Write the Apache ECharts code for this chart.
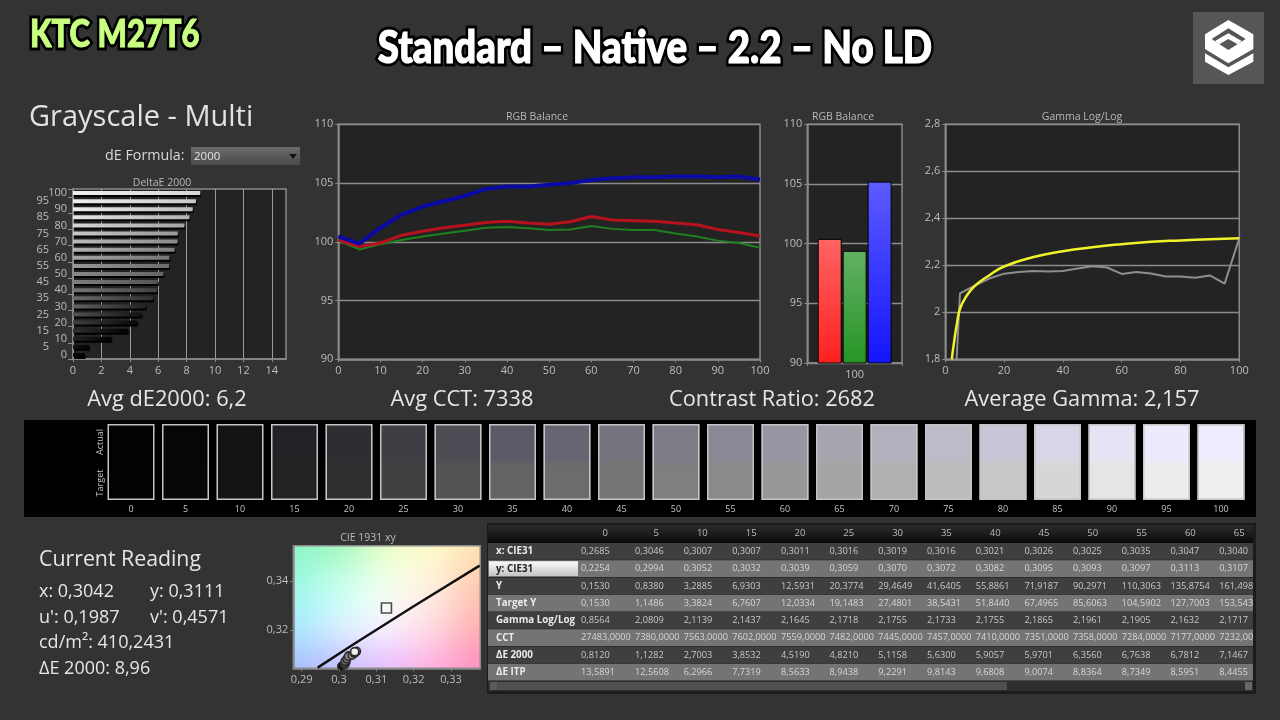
<!DOCTYPE html>
<html><head><meta charset="utf-8">
<style>html,body{margin:0;padding:0;background:#333;}#c{width:1280px;height:720px;}</style>
<script src="https://cdn.jsdelivr.net/npm/echarts@6/dist/echarts.min.js"></script>
</head><body><div id="c"></div>
<script>
const FONT='"Open Sans","Noto Sans",sans-serif';
const levels=[0,5,10,15,20,25,30,35,40,45,50,55,60,65,70,75,80,85,90,95,100];
const deltaE=[0.812,1.1282,2.7003,3.8532,4.519,4.821,5.1158,5.63,5.9057,5.9701,6.356,6.7638,6.7812,7.1467,7.36,7.38,7.85,8.2,8.43,8.66,8.96];
const rgbRed=[100.15,99.6,99.9,100.55,100.9,101.2,101.4,101.65,101.75,101.6,101.5,101.7,102.15,101.85,101.8,101.75,101.6,101.45,101.05,100.8,100.5];
const rgbGreen=[100.1,99.35,99.8,100.15,100.45,100.7,100.95,101.2,101.25,101.15,101,101.05,101.35,101.1,101,101,100.7,100.45,100.1,99.9,99.5];
const rgbBlue=[100.45,99.85,101.2,102.3,103,103.45,103.9,104.5,104.7,104.7,104.85,105,105.25,105.4,105.5,105.5,105.55,105.55,105.5,105.55,105.3];
const balanceCats=['100'];
const balanceRed=[100.4],balanceGreen=[99.4],balanceBlue=[105.2];
const gammaMeasured=[0.8564,2.0809,2.1139,2.1437,2.1645,2.1718,2.1755,2.1733,2.1755,2.1865,2.1961,2.1905,2.1632,2.1717,2.165,2.152,2.152,2.147,2.157,2.122,2.315];
const gammaTargetX=[2.2,3,4,5,7,10,15,20,30,40,50,60,70,80,90,100];
const gammaTargetY=[1.8,1.875,1.955,2.015,2.065,2.112,2.158,2.195,2.235,2.26,2.277,2.29,2.3,2.306,2.311,2.315];
const swatchActual=['#020202','#060608','#141416','#222226','#2e2e32','#3f3e45','#4d4d55','#5a5a66','#666672','#75757f','#7d7d87','#8a8894','#9896a2','#a6a5af','#b3b1be','#bcbbc7','#c8c7d8','#d8d7e8','#e4e4f4','#ecebfd','#eeedfd'];
const swatchTarget=['#020202','#070707','#141414','#232323','#303030','#414141','#535353','#646464','#6c6c6c','#757575','#7f7f7f','#8a8a8a','#989898','#a5a5a5','#b0b0b0','#bbbbbb','#c8c8c8','#d6d6d6','#e5e5e5','#ececec','#efefef'];
const cieX=[.3007,.3007,.3011,.3016,.3019,.3016,.3021,.3026,.3025,.3035,.3047,.3040,.3042,.3041,.3041,.3042,.3043,.3042,.3042];
const cieY=[.3052,.3032,.3039,.3059,.3070,.3072,.3082,.3095,.3093,.3097,.3113,.3107,.3105,.3106,.3108,.3109,.3110,.3110,.3111];
const locusX=[.29428,.3040,.3199,.33767];
const locusY=[.30463,.3143,.3296,.34626];
const cieTarget=[.3127,.329];
const cieColors=[['#8ef5c8','#a8f8c0','#e8ffc8','#fffac8','#ffe0b0'],['#a0f8e8','#c8fff0','#f4fff0','#ffeedd','#ffc8b0'],['#a8e8ff','#d8f0ff','#f8f0ff','#ffd8e0','#ffb0b0'],['#a8c0ff','#c8c0ff','#e8c0ff','#ffb0e0','#ff90c0']];
const tableHeads=['0','5','10','15','20','25','30','35','40','45','50','55','60','65'];
const tableNames=['x: CIE31','y: CIE31','Y','Target Y','Gamma Log/Log','CCT','ΔE 2000','ΔE ITP'];
const rowX=['0,2685','0,3046','0,3007','0,3007','0,3011','0,3016','0,3019','0,3016','0,3021','0,3026','0,3025','0,3035','0,3047','0,3040'];
const rowY=['0,2254','0,2994','0,3052','0,3032','0,3039','0,3059','0,3070','0,3072','0,3082','0,3095','0,3093','0,3097','0,3113','0,3107'];
const rowLum=['0,1530','0,8380','3,2885','6,9303','12,5931','20,3774','29,4649','41,6405','55,8861','71,9187','90,2971','110,3063','135,8754','161,498'];
const rowTarget=['0,1530','1,1486','3,3824','6,7607','12,0334','19,1483','27,4801','38,5431','51,8440','67,4965','85,6063','104,5902','127,7003','153,543'];
const rowGamma=['0,8564','2,0809','2,1139','2,1437','2,1645','2,1718','2,1755','2,1733','2,1755','2,1865','2,1961','2,1905','2,1632','2,1717'];
const rowCCT=['27483,0000','7380,0000','7563,0000','7602,0000','7559,0000','7482,0000','7445,0000','7457,0000','7410,0000','7351,0000','7358,0000','7284,0000','7177,0000','7232,00'];
const rowDE=['0,8120','1,1282','2,7003','3,8532','4,5190','4,8210','5,1158','5,6300','5,9057','5,9701','6,3560','6,7638','6,7812','7,1467'];
const rowITP=['13,5891','12,5608','6,2966','7,7319','8,5633','8,9438','9,2291','9,8143','9,6808','9,0074','8,8364','8,7349','8,5951','8,4455'];
const tableRows=[rowX,rowY,rowLum,rowTarget,rowGamma,rowCCT,rowDE,rowITP];

const LBL='#bdbdbd',AX='#8a8a8a',PLOT='#232323';
const comma=v=>String(Math.round(v*1000)/1000).replace('.',',');
const g=[];
const T=(text,x,y,size,fill,opt={})=>g.push(Object.assign({type:'text',silent:true,z:opt.z??5,rotation:opt.rotation||0,scaleY:opt.sy||1,x:opt.rx||0,y:opt.ry||0,
  style:{text,x:opt.rx?0:x,y:opt.ry?0:y,fill,font:(opt.weight||'normal')+' '+size+'px '+(opt.family||FONT),align:opt.align||'left',textAlign:opt.align||'left',verticalAlign:'middle',textVerticalAlign:'middle',stroke:opt.stroke,lineWidth:opt.lw||0,lineJoin:'round'}}));
const R=(x,y,w,h,fill,z=-1)=>g.push({type:'rect',silent:true,z,shape:{x,y,width:w,height:h},style:{fill}});
const P=(pts,fill,z=4)=>g.push({type:'polygon',silent:true,z,shape:{points:pts.map(p=>[1185+p[0]/3,5+p[1]/3])},style:{fill}});
const vg=(a,b)=>new echarts.graphic.LinearGradient(0,0,0,1,[{offset:0,color:a},{offset:1,color:b}]);
const hg=(a,b)=>new echarts.graphic.LinearGradient(0,0,1,0,[{offset:0,color:a},{offset:1,color:b}]);
const mix=(a,b)=>'#'+[1,3,5].map(i=>Math.round((parseInt(a.substr(i,2),16)+parseInt(b.substr(i,2),16))/2).toString(16).padStart(2,'0')).join('');

// header
const heavy={weight:'900',family:'Lato,sans-serif'};
T('KTC M27T6',0,0,31,'#000',{...heavy,rx:30,ry:35,sy:1.2,stroke:'#000',lw:6});
T('KTC M27T6',0,0,31,'#c8ff80',{...heavy,rx:30,ry:35,sy:1.2,stroke:'#c8ff80',lw:.8});
T('Standard – Native – 2.2 – No LD',0,0,38.5,'#000',{...heavy,rx:655,ry:48,sy:1.2,align:'center',stroke:'#000',lw:6});
T('Standard – Native – 2.2 – No LD',0,0,38.5,'#fff',{...heavy,rx:655,ry:48,sy:1.2,align:'center',stroke:'#fff',lw:1});
R(1193,12,71,72,'#565656',1);
P([[130,45],[205,88],[205,132],[130,175],[60,132],[60,88]],'#fff');
P([[130,70],[182,102],[130,135],[80,102]],'#565656');
P([[130,85],[170,108],[158,118],[130,102],[103,118],[90,108]],'#fff');
P([[60,145],[130,187],[205,145],[205,170],[130,210],[60,170]],'#fff');

T('Grayscale - Multi',29,117.5,29,'#e2e2e2');
T('dE Formula:',105,156,14.3,'#d8d8d8');
R(191,147,109,18,vg('#6b6b6b','#4a4a4a'));
T('2000',194,157,11.5,'#e6e6e6');
g.push({type:'polygon',silent:true,z:5,shape:{points:[[289,154],[297,154],[293,159]]},style:{fill:'#111'}});
// stats
T('Avg dE2000: 6,2',167,399.5,21.8,'#e6e6e6',{align:'center'});
T('Avg CCT: 7338',462,399.5,21.8,'#e6e6e6',{align:'center'});
T('Contrast Ratio: 2682',772,399.5,21.8,'#e6e6e6',{align:'center'});
T('Average Gamma: 2,157',1082,399.5,21.8,'#e6e6e6',{align:'center'});
// swatch panel
R(24,420,1232,97,'#000');
T('Actual',0,0,9,'#c4c4c4',{rx:100.5,ry:442,rotation:Math.PI/2,align:'center'});
T('Target',0,0,9,'#c4c4c4',{rx:100.5,ry:483,rotation:Math.PI/2,align:'center'});
// current reading
T('Current Reading',39,560,21.3,'#e6e6e6');
T('x: 0,3042',39,592,18,'#e6e6e6');T('y: 0,3111',150,592,18,'#e6e6e6');
T("u': 0,1987",39,618,18,'#e6e6e6');T("v': 0,4571",150,618,18,'#e6e6e6');
T('cd/m²: 410,2431',39,643,18,'#e6e6e6');
T('ΔE 2000: 8,96',39,669,18,'#e6e6e6');
// table
R(487,523,769,171,'#1c1c1c');
R(488,525,765,18,vg('#2c2c2c','#0a0a0a'),0);
const colX=[581,635,683.7,732.2,781,829.6,878.3,927,975.7,1024.4,1073,1121.8,1170.6,1219.3];
const headX=[608,659,707.8,756.6,805.4,854.2,903,951.8,1000.6,1049.4,1098.2,1147,1195.8,1244.6];
const rowTop=543, rowH=17.25;
tableHeads.forEach((h,i)=>T(h,headX[i],533.5,9.5,'#bbb',{align:'right'}));
tableRows.forEach((row,r)=>{
  const y=rowTop+r*rowH, odd=r%2===1;
  R(488,y,765,rowH-.5,odd?'#747474':'#3f3f3f',0);
  const mid=y+rowH/2;
  if(r===1){R(489,y+1,89,rowH-2.5,vg('#fbfbfb','#c4c4c4'),1);}
  T(tableNames[r],496,mid,9.8,r===1?'#222':'#eaeaea',{weight:'bold'});
  row.forEach((v,c)=>T(v,colX[c],mid,9.2,odd?'#d6d6d6':'#c8c8c8'));
});
R(488,681,765,10,'#2f2f2f',0);
R(497,682,510,8,'#4f4f4f',1);
R(490,682,7,8,'#5a5a5a',1);R(1245,682,7,8,'#666',1);

// colour field for the CIE plot
const cieField=(()=>{const s=document.createElement('canvas');s.width=5;s.height=4;const c=s.getContext('2d');
  cieColors.forEach((row,j)=>row.forEach((col,i)=>{c.fillStyle=col;c.fillRect(i,j,1,1);}));
  const d=document.createElement('canvas');d.width=187;d.height=123;const e=d.getContext('2d');e.imageSmoothingEnabled=true;e.imageSmoothingQuality='high';
  e.drawImage(s,.5,.5,4,3,0,0,187,123);return d;})();
g.push({type:'image',silent:true,z:-1,style:{image:cieField,x:293.3,y:545.7,width:187,height:122.6}});

const axisBase=(o)=>Object.assign({axisLine:{show:true,onZero:false,lineStyle:{color:AX,width:1.5}},axisTick:{show:true,length:3,lineStyle:{color:AX}},
  axisLabel:{color:LBL,fontSize:11,fontFamily:FONT,margin:6},splitLine:{show:false}},o);
const split={show:true,lineStyle:{color:'#8c8c8c',width:1.3}};
const grid=(left,top,right,bottom,bg)=>({left,top,width:right-left,height:bottom-top,show:true,backgroundColor:bg,borderColor:AX,borderWidth:1.5,containLabel:false});

const option={
 animation:false,backgroundColor:'#333',textStyle:{fontFamily:FONT},
 title:[['DeltaE 2000',157,172.5],['RGB Balance',532,106.5],['RGB Balance',838,106.5],['Gamma Log/Log',1077,106.5],['CIE 1931 xy',363,527.5]].map(t=>({text:t[0],left:t[1],top:t[2],textAlign:'center',textStyle:{color:'#b8b8b8',fontSize:10.5,fontWeight:'normal',fontFamily:FONT}})),
 graphic:{elements:g},
 grid:[grid(73,189,286,359,PLOT),grid(338.3,124.3,760,359.3,PLOT),grid(807.3,124.3,902,363,PLOT),grid(945.3,124.3,1239.3,359.3,PLOT),
  {left:103.75,top:424,width:1144.5,height:76,show:false},grid(293.3,545.7,480.3,668.3,'transparent')],
 xAxis:[
  axisBase({gridIndex:0,type:'value',min:0,max:15,interval:1,axisLabel:{color:LBL,fontSize:11,fontFamily:FONT,margin:6,customValues:[0,2,4,6,8,10,12,14]},axisTick:{show:true,length:3,lineStyle:{color:AX},customValues:[0,2,4,6,8,10,12,14]},splitLine:{show:true,lineStyle:{color:'#9a9a9a',width:1}}}),
  axisBase({gridIndex:1,type:'value',min:0,max:100,interval:10}),
  axisBase({gridIndex:2,type:'category',data:balanceCats,axisTick:{show:true,length:3,alignWithLabel:false,lineStyle:{color:AX}}}),
  axisBase({gridIndex:3,type:'value',min:0,max:100,interval:20}),
  {gridIndex:4,type:'category',data:levels.map(String),axisLine:{show:false},axisTick:{show:false},axisLabel:{color:'#c4c4c4',fontSize:9,fontFamily:FONT,margin:4.5,interval:0}},
  axisBase({gridIndex:5,type:'value',min:.28775,max:.33785,axisLabel:{color:LBL,fontSize:11,fontFamily:FONT,margin:6,formatter:comma,customValues:[.29,.3,.31,.32,.33]},axisTick:{show:true,length:3,lineStyle:{color:AX},customValues:[.29,.3,.31,.32,.33]}})
 ],
 yAxis:[
  axisBase({gridIndex:0,type:'category',data:levels.map(String),axisTick:{show:true,length:5,interval:1,lineStyle:{color:AX}},
    axisLabel:{color:LBL,fontSize:11,fontFamily:FONT,margin:6,interval:0,formatter:(v,i)=>i%2?'{o|'+v+'}':'{e|'+v+'}',rich:{o:{color:LBL,fontSize:11,padding:[0,18,0,0]},e:{color:LBL,fontSize:11}}}}),
  axisBase({gridIndex:1,type:'value',min:90,max:110,interval:5,splitLine:split,axisLabel:{color:LBL,fontSize:11,fontFamily:FONT,margin:5}}),
  axisBase({gridIndex:2,type:'value',min:90,max:110,interval:5,splitLine:split,axisLabel:{color:LBL,fontSize:11,fontFamily:FONT,margin:5}}),
  axisBase({gridIndex:3,type:'value',min:1.8,max:2.8,interval:.2,splitLine:split,axisLabel:{color:LBL,fontSize:11,fontFamily:FONT,margin:5,formatter:comma}}),
  {gridIndex:4,type:'value',min:0,max:2,show:false},
  axisBase({gridIndex:5,type:'value',min:.30437,max:.35441,axisLabel:{color:LBL,fontSize:11,fontFamily:FONT,margin:5,formatter:comma,customValues:[.32,.34]},axisTick:{show:true,length:3,lineStyle:{color:AX},customValues:[.32,.34]}})
 ],
 series:[
  {type:'bar',xAxisIndex:0,yAxisIndex:0,barWidth:4,data:deltaE.map((v,i)=>({value:v,itemStyle:{color:hg(swatchTarget[Math.min(20,i+1)],swatchTarget[Math.max(0,i-3)]),shadowColor:'#000',shadowOffsetY:2,shadowOffsetX:1,shadowBlur:0}}))},
  {type:'line',xAxisIndex:1,yAxisIndex:1,data:levels.map((x,i)=>[x,rgbGreen[i]]),showSymbol:false,lineStyle:{color:'#1f801f',width:2},z:3},
  {type:'line',xAxisIndex:1,yAxisIndex:1,data:levels.map((x,i)=>[x,rgbRed[i]]),showSymbol:false,lineStyle:{color:'#b5121e',width:3},z:4},
  {type:'line',xAxisIndex:1,yAxisIndex:1,data:levels.map((x,i)=>[x,rgbBlue[i]]),showSymbol:false,lineStyle:{color:'#0b0ba4',width:4},z:5},
  {type:'bar',xAxisIndex:2,yAxisIndex:2,barWidth:24,barGap:'4%',data:balanceRed,itemStyle:{color:vg('#ff6464','#ff2020'),borderColor:'#000',borderWidth:1}},
  {type:'bar',xAxisIndex:2,yAxisIndex:2,barWidth:24,barGap:'4%',data:balanceGreen,itemStyle:{color:vg('#62b062','#279527'),borderColor:'#000',borderWidth:1}},
  {type:'bar',xAxisIndex:2,yAxisIndex:2,barWidth:24,barGap:'4%',data:balanceBlue,itemStyle:{color:vg('#5c5cff','#1414ff'),borderColor:'#000',borderWidth:1}},
  {type:'line',xAxisIndex:3,yAxisIndex:3,data:levels.map((x,i)=>[x,gammaMeasured[i]]),showSymbol:false,lineStyle:{color:'#8e8e8e',width:2},z:3},
  {type:'line',xAxisIndex:3,yAxisIndex:3,smooth:.5,data:gammaTargetX.map((x,i)=>[x,gammaTargetY[i]]),showSymbol:false,lineStyle:{color:'#f2f22a',width:2.5},z:4},
  {type:'bar',xAxisIndex:4,yAxisIndex:4,stack:'s',barWidth:47,barGap:'-100%',data:swatchTarget.map((c,i)=>({value:1,itemStyle:{color:new echarts.graphic.LinearGradient(0,0,0,1,[{offset:0,color:mix(c,swatchActual[i])},{offset:.12,color:c},{offset:1,color:c}])}}))},
  {type:'bar',xAxisIndex:4,yAxisIndex:4,stack:'s',barWidth:47,barGap:'-100%',data:swatchActual.map((c,i)=>({value:1,itemStyle:{color:new echarts.graphic.LinearGradient(0,0,0,1,[{offset:0,color:c},{offset:.88,color:c},{offset:1,color:mix(c,swatchTarget[i])}])}}))},
  {type:'bar',xAxisIndex:4,yAxisIndex:4,barWidth:47,barGap:'-100%',z:4,data:levels.map(()=>2),itemStyle:{color:'rgba(0,0,0,0)',borderColor:'#c4c4c4',borderWidth:1.5}},
  {type:'line',xAxisIndex:5,yAxisIndex:5,data:locusX.map((x,i)=>[x,locusY[i]]),showSymbol:false,lineStyle:{color:'#111',width:2.5},z:3},
  {type:'scatter',xAxisIndex:5,yAxisIndex:5,symbol:'rect',symbolSize:10,data:[cieTarget],itemStyle:{color:'rgba(0,0,0,0)',borderColor:'#222',borderWidth:1.6},z:4},
  {type:'scatter',xAxisIndex:5,yAxisIndex:5,symbolSize:8,clip:true,data:cieX.map((x,i)=>({value:[x,cieY[i]],itemStyle:{color:swatchTarget[i+2]}})),itemStyle:{borderColor:'#2b2b2b',borderWidth:1.4,opacity:1},z:5}
 ]
};
const chart=echarts.init(document.getElementById('c'),null,{width:1280,height:720});
chart.setOption(option);
</script></body></html>
